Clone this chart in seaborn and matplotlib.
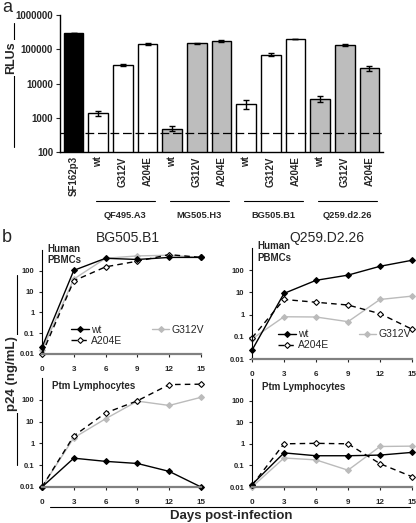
import numpy as np
import pandas as pd
import seaborn as sns
import matplotlib.pyplot as plt
from matplotlib.lines import Line2D
from matplotlib.ticker import FixedLocator, NullLocator

# ---- panel a data ----
bar_groups = ['SF162p3',
              'QF495.A3', 'QF495.A3', 'QF495.A3',
              'MG505.H3', 'MG505.H3', 'MG505.H3',
              'BG505.B1', 'BG505.B1', 'BG505.B1',
              'Q259.d2.26', 'Q259.d2.26', 'Q259.d2.26']
bar_labels = ['SF162p3', 'wt', 'G312V', 'A204E', 'wt', 'G312V', 'A204E',
              'wt', 'G312V', 'A204E', 'wt', 'G312V', 'A204E']
bar_values = [300000, 1350, 35000, 140000, 480, 150000, 175000,
              2500, 70000, 200000, 3600, 135000, 28000]
bar_errors = [0, 200, 2500, 8000, 80, 5000, 10000,
              700, 8000, 6000, 800, 8000, 5000]
cutoff = 370
group_colors = {'SF162p3': 'black', 'QF495.A3': 'white', 'MG505.H3': '#bdbdbd',
                'BG505.B1': 'white', 'Q259.d2.26': '#bdbdbd'}

# ---- panel b data ----
days = [0, 3, 6, 9, 12, 15]
bg_pbmc = {'wt': [0.021, 105, 400, 350, 440, 440],
           'G312V': [0.015, 40, 400, 520, 560, 440],
           'A204E': [0.01, 33, 155, 290, 600, 440]}
q259_pbmc = {'wt': [0.025, 9, 35, 60, 150, 280],
             'G312V': [0.08, 0.8, 0.78, 0.48, 4.8, 6.8],
             'A204E': [0.09, 4.8, 3.6, 2.7, 1.1, 0.22]}
bg_ptm = {'wt': [0.01, 0.21, 0.15, 0.12, 0.052, 0.01],
          'G312V': [0.01, 1.8, 13.5, 87, 55, 130],
          'A204E': [0.01, 2.2, 25, 90, 500, 520]}
q259_ptm = {'wt': [0.013, 0.38, 0.28, 0.28, 0.3, 0.4],
            'G312V': [0.01, 0.22, 0.18, 0.06, 0.75, 0.78],
            'A204E': [0.012, 1.0, 1.05, 1.0, 0.12, 0.03]}

styles = {'wt': dict(color='black', ls='-', mfc='black', mec='black'),
          'G312V': dict(color='#bbbbbb', ls='-', mfc='#bbbbbb', mec='#bbbbbb'),
          'A204E': dict(color='black', ls=(0, (4, 3)), mfc='white', mec='black')}

sns.set_style('white')
plt.rcParams['font.family'] = ['Liberation Sans', 'DejaVu Sans']

W, H = 416, 523
fig = plt.figure(figsize=(W / 100, H / 100), dpi=100)


def add_ax(l, t, r, b):
    return fig.add_axes([l / W, 1 - b / H, (r - l) / W, (b - t) / H])


def ftext(x, y, s, **kw):
    fig.text(x / W, 1 - y / H, s, **kw)


def fline(xs, ys, **kw):
    fig.add_artist(Line2D([x / W for x in xs], [1 - y / H for y in ys], **kw))


# ---------------- panel a ----------------
ax = add_ax(60, 15, 383, 152)
df = pd.DataFrame({'key': [f'{g}|{l}' for g, l in zip(bar_groups, bar_labels)],
                   'group': bar_groups, 'value': bar_values})
sns.barplot(data=df, x='key', y='value', hue='group', palette=group_colors,
            dodge=False, legend=False, edgecolor='black', linewidth=1,
            width=0.8, errorbar=None, ax=ax)
ax.set_yscale('log')
ax.errorbar(range(len(bar_values)), bar_values, yerr=bar_errors, fmt='none',
            ecolor='black', elinewidth=1, capsize=2, capthick=1)
ax.axhline(cutoff, color='black', lw=0.9, ls=(0, (7, 3)))
ax.set_ylim(100, 1e6)
ax.set_xlim(-0.55, len(bar_values) - 0.45)
yt = [100, 1000, 10000, 100000, 1000000]
ax.yaxis.set_major_locator(FixedLocator(yt))
ax.yaxis.set_minor_locator(NullLocator())
ax.set_yticklabels([str(v) for v in yt], fontsize=7, fontweight='bold')
ax.set_xticks(range(len(bar_labels)))
ax.set_xticklabels(bar_labels, rotation=90, fontsize=7, fontweight='bold')
ax.set_xticks(np.arange(-0.5, len(bar_labels), 1), minor=True)
ax.tick_params(axis='x', which='major', length=0, pad=3)
ax.tick_params(axis='x', which='minor', length=4, width=0.8, direction='out')
ax.tick_params(axis='y', length=3, width=0.8, direction='out', pad=2, left=True)
ax.set_xlabel('')
ax.set_ylabel('')
for s in ['top', 'right']:
    ax.spines[s].set_visible(False)
for s in ['left', 'bottom']:
    ax.spines[s].set_color('black')
    ax.spines[s].set_linewidth(1)

# group underlines + labels
trans = ax.get_xaxis_transform()
starts = {}
for i, g in enumerate(bar_groups):
    starts.setdefault(g, []).append(i)
for g, idx in starts.items():
    if len(idx) < 2:
        continue
    ax.plot([idx[0] - 0.1, idx[-1] + 0.3], [-0.36, -0.36], color='black',
            lw=0.8, transform=trans, clip_on=False)
    ax.text((idx[0] + idx[-1]) / 2 + 0.1, -0.43, g, transform=trans,
            ha='center', va='top', fontsize=6.7, fontweight='bold')

fline([14, 14], [23, 147], color='black', lw=0.8)
ftext(11, 58, 'RLUs', rotation=90, ha='center', va='center', fontsize=9,
      fontweight='bold', bbox=dict(fc='white', ec='none', pad=1))
ftext(2, 8, 'a', fontsize=13, va='center', ha='left')

# ---------------- panel b ----------------
panels = [
    ((42, 250, 201, 354), bg_pbmc, 'Human\nPBMCs', (0.15, 0.03)),
    ((252, 248, 412, 359), q259_pbmc, 'Human\nPBMCs', (0.13, 0.03)),
    ((42, 378, 201, 487), bg_ptm, 'Ptm Lymphocytes', None),
    ((252, 379, 412, 487), q259_ptm, 'Ptm Lymphocytes', None),
]
for (l, t, r, b), series, lab, leg in panels:
    bx = add_ax(l, t, r, b)
    handles = {}
    for name in ['G312V', 'A204E', 'wt']:
        st = styles[name]
        sns.lineplot(x=days, y=series[name], ax=bx, color=st['color'],
                     linestyle=st['ls'], lw=1, marker='D', markersize=3,
                     markerfacecolor=st['mfc'], markeredgecolor=st['mec'],
                     markeredgewidth=0.8, clip_on=False)
        handles[name] = Line2D([], [], color=st['color'], ls=st['ls'], lw=1,
                               marker='D', markersize=3, mfc=st['mfc'],
                               mec=st['mec'], mew=0.8)
    bx.set_yscale('log')
    bx.set_ylim(0.01, 1000)
    bx.set_xlim(0, 15)
    yt = [0.01, 0.1, 1, 10, 100]
    bx.yaxis.set_major_locator(FixedLocator(yt))
    bx.yaxis.set_minor_locator(NullLocator())
    bx.set_yticklabels(['0.01', '0.1', '1', '10', '100'], fontsize=5.5,
                       fontweight='bold')
    bx.set_xticks(days)
    bx.set_xticklabels([str(d) for d in days], fontsize=5.8, fontweight='bold')
    bx.tick_params(axis='y', length=2.5, width=0.8, direction='out', pad=3,
                   left=True)
    bx.tick_params(axis='x', length=2.5, width=0.8, direction='out', pad=6,
                   bottom=True)
    for s in ['top', 'right']:
        bx.spines[s].set_visible(False)
    bx.spines['left'].set_color('black')
    bx.spines['left'].set_linewidth(0.8)
    bx.spines['bottom'].set_color('#808080')
    bx.spines['bottom'].set_linewidth(1.6)
    if leg is not None:
        bx.text(0.035, 1.06, lab, transform=bx.transAxes, ha='left', va='top',
                fontsize=7, fontweight='bold', linespacing=1.2)
        bx.legend([handles['wt'], handles['A204E'], handles['G312V']],
                  ['wt', 'A204E', 'G312V'], ncol=2, frameon=False,
                  fontsize=7.5, handlelength=1.7, handletextpad=0.25,
                  columnspacing=2.8, labelspacing=0.1, borderpad=0,
                  loc='lower left', bbox_to_anchor=leg)
    else:
        bx.text(0.06, 0.97, lab, transform=bx.transAxes, ha='left', va='top',
                fontsize=7, fontweight='bold')

ftext(128, 238, 'BG505.B1', ha='center', va='center', fontsize=10)
ftext(327, 238, 'Q259.D2.26', ha='center', va='center', fontsize=10)
ftext(2, 238, 'b', fontsize=13, va='center', ha='left')

fline([17, 17], [275, 465], color='black', lw=0.8)
ftext(12, 374, 'p24 (ng/mL)', rotation=90, ha='center', va='center',
      fontsize=9.5, fontweight='bold', bbox=dict(fc='white', ec='none', pad=1))

fline([50, 410], [507, 507], color='black', lw=0.8)
ftext(231, 516, 'Days post-infection', ha='center', va='center', fontsize=9.5,
      fontweight='bold')

fig.savefig('out.png', dpi=100)
